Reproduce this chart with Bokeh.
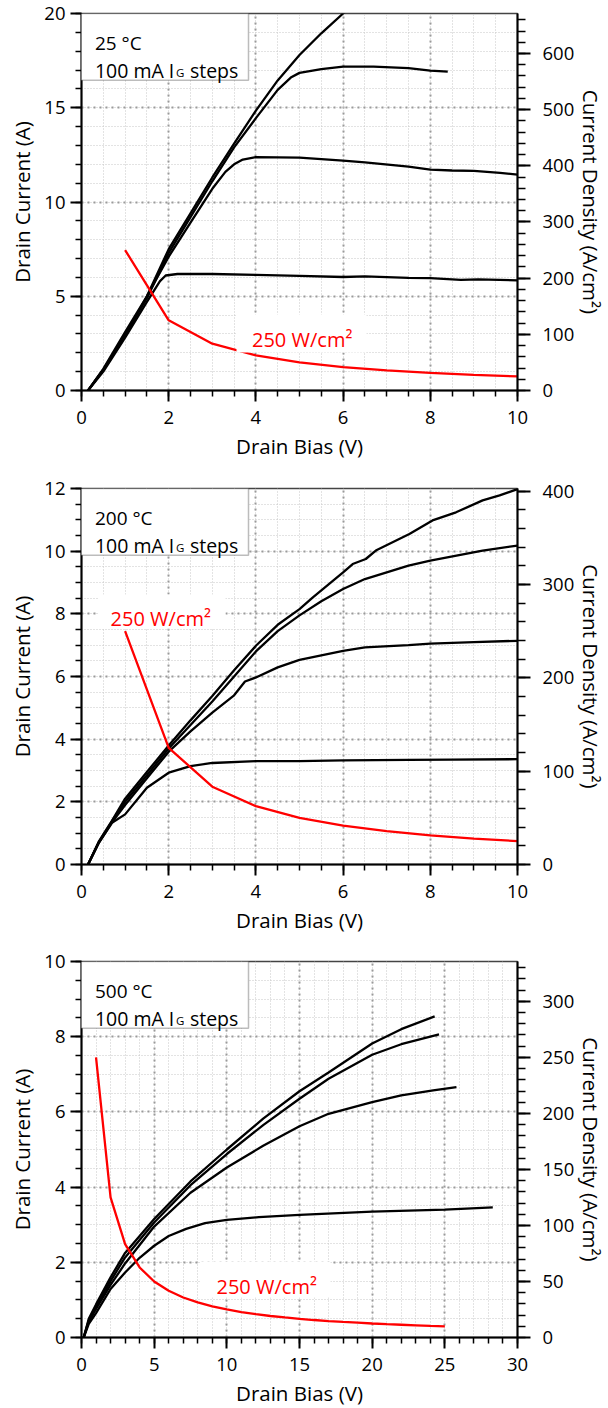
from bokeh.plotting import figure
from bokeh.models import Range1d, LinearAxis, SingleIntervalTicker, BoxAnnotation, Label
from bokeh.layouts import column
from bokeh.embed import file_html
from bokeh.resources import INLINE

FONT = "Open Sans"

# ---------------- data ----------------
x_label = "Drain Bias (V)"
y_label = "Drain Current (A)"
j_label = "Current Density (A/cm²)"
pw_label = "250 W/cm²"
temps = ["25 °C", "200 °C", "500 °C"]
ig_text = ["100 mA I", "G", "steps"]

# 25 C
v25_1 = [0.15, 0.5, 1.0, 1.5, 1.8, 1.93, 2.2, 3.0, 4.0, 5.0, 6.0, 6.5, 7.5, 8.0, 8.7, 9.1, 10.0]
i25_1 = [0.0, 1.0, 2.8, 4.7, 5.8, 6.1, 6.18, 6.18, 6.13, 6.08, 6.02, 6.05, 5.97, 5.96, 5.87, 5.9, 5.84]
v25_2 = [0.15, 0.5, 1.0, 1.5, 2.0, 2.5, 3.0, 3.3, 3.5, 3.7, 4.0, 5.0, 6.0, 6.5, 7.5, 8.0, 8.5, 9.0, 9.6, 10.0]
i25_2 = [0.0, 1.1, 2.9, 5.0, 7.1, 8.9, 10.7, 11.6, 12.0, 12.25, 12.38, 12.35, 12.2, 12.1, 11.88, 11.72, 11.67, 11.65, 11.55, 11.45]
v25_3 = [0.15, 0.5, 1.0, 1.5, 2.0, 2.5, 3.0, 3.5, 4.0, 4.5, 4.8, 5.0, 5.5, 6.0, 6.7, 7.5, 8.0, 8.4]
i25_3 = [0.0, 1.1, 3.0, 4.9, 7.3, 9.2, 11.1, 12.9, 14.45, 15.95, 16.6, 16.85, 17.05, 17.18, 17.18, 17.1, 16.97, 16.92]
v25_4 = [0.15, 0.5, 1.0, 1.5, 2.0, 2.5, 3.0, 3.5, 4.0, 4.5, 5.0, 5.5, 6.0, 6.1]
i25_4 = [0.0, 1.15, 3.1, 5.0, 7.5, 9.4, 11.3, 13.1, 14.85, 16.45, 17.8, 18.95, 20.0, 20.2]

# 200 C
v200_1 = [0.15, 0.4, 0.7, 1.0, 1.5, 2.0, 2.5, 3.0, 4.0, 5.0, 6.0, 7.5, 8.5, 10.0]
i200_1 = [0.0, 0.7, 1.33, 1.6, 2.45, 2.93, 3.14, 3.24, 3.3, 3.3, 3.32, 3.34, 3.35, 3.36]
v200_2 = [0.15, 0.4, 0.7, 1.0, 1.5, 2.0, 2.5, 3.0, 3.5, 3.75, 4.0, 4.5, 5.0, 6.0, 6.5, 7.5, 8.0, 9.0, 10.0]
i200_2 = [0.0, 0.7, 1.35, 1.9, 2.75, 3.6, 4.25, 4.85, 5.4, 5.84, 5.97, 6.29, 6.53, 6.82, 6.93, 7.0, 7.05, 7.1, 7.14]
v200_3 = [0.15, 0.4, 0.7, 1.0, 1.5, 2.0, 2.5, 3.0, 3.5, 4.0, 4.5, 5.0, 5.5, 6.0, 6.5, 7.5, 8.0, 8.6, 9.2, 10.0]
i200_3 = [0.0, 0.72, 1.38, 2.0, 2.85, 3.7, 4.45, 5.2, 6.0, 6.8, 7.45, 7.95, 8.4, 8.79, 9.11, 9.54, 9.7, 9.86, 10.02, 10.18]
v200_4 = [0.15, 0.4, 0.7, 1.0, 1.5, 2.0, 2.5, 3.0, 3.5, 4.0, 4.5, 5.0, 5.3, 6.0, 6.22, 6.52, 6.75, 7.52, 8.05, 8.59, 9.2, 9.59, 10.0]
i200_4 = [0.0, 0.74, 1.4, 2.1, 2.95, 3.8, 4.6, 5.38, 6.2, 6.98, 7.65, 8.15, 8.52, 9.32, 9.59, 9.75, 10.02, 10.55, 10.98, 11.24, 11.62, 11.78, 11.98]

# 500 C
v500_1 = [0.15, 0.5, 1.0, 2.0, 3.0, 4.0, 5.0, 6.0, 7.2, 8.5, 10.0, 12.2, 15.0, 20.0, 25.0, 28.3]
i500_1 = [0.0, 0.36, 0.65, 1.29, 1.73, 2.12, 2.44, 2.7, 2.89, 3.04, 3.13, 3.2, 3.26, 3.35, 3.4, 3.46]
v500_2 = [0.15, 0.5, 1.0, 2.0, 3.0, 5.0, 7.5, 10.0, 12.5, 15.0, 17.0, 20.0, 22.0, 24.2, 25.8]
i500_2 = [0.0, 0.42, 0.76, 1.4, 1.97, 2.95, 3.85, 4.52, 5.1, 5.62, 5.95, 6.26, 6.44, 6.57, 6.66]
v500_3 = [0.15, 0.5, 1.0, 2.0, 3.0, 5.0, 7.5, 10.0, 12.5, 15.0, 17.0, 20.0, 22.0, 24.6]
i500_3 = [0.0, 0.46, 0.82, 1.5, 2.13, 3.06, 4.05, 4.88, 5.65, 6.35, 6.88, 7.52, 7.8, 8.06]
v500_4 = [0.15, 0.5, 1.0, 2.0, 3.0, 5.0, 7.5, 10.0, 12.5, 15.0, 17.0, 20.0, 22.0, 24.3]
i500_4 = [0.0, 0.5, 0.88, 1.6, 2.25, 3.15, 4.15, 5.0, 5.82, 6.55, 7.05, 7.82, 8.2, 8.54]

# 250 W/cm2 power line, current density in A/cm2
pw_v10 = [1, 2, 3, 4, 5, 6, 7, 8, 9, 10]
pw_j10 = [250, 125, 83.3, 62.5, 50, 41.7, 35.7, 31.3, 27.8, 25]
pw_v25 = [1, 2, 3, 4, 5, 6, 7, 8, 9, 10, 11, 12, 13, 14, 15, 16, 17, 18, 19, 20, 21, 22, 23, 24, 25]
pw_j25 = [250, 125, 83.3, 62.5, 50, 41.7, 35.7, 31.3, 27.8, 25, 22.7, 20.8, 19.2, 17.9, 16.7,
          15.6, 14.7, 13.9, 13.2, 12.5, 11.9, 11.4, 10.9, 10.4, 10.0]

J_PER_A = 33.56   # right-axis scale (A/cm2 per A)

# ---------------- layout ----------------
FW = 436


def style_axis(ax, tout, mout, lstand, tstand):
    ax.axis_line_color = "black"
    ax.axis_line_width = 2
    ax.major_tick_line_color = "black"
    ax.major_tick_line_width = 2
    ax.major_tick_in = 0
    ax.major_tick_out = tout
    ax.minor_tick_line_color = "black"
    ax.minor_tick_line_width = 1.5
    ax.minor_tick_in = 0
    ax.minor_tick_out = mout
    ax.major_label_text_font = FONT
    ax.major_label_text_font_size = "18.5px"
    ax.major_label_text_color = "black"
    ax.major_label_standoff = lstand
    ax.axis_label_text_font = FONT
    ax.axis_label_text_font_size = "20.5px"
    ax.axis_label_text_font_style = "normal"
    ax.axis_label_text_color = "black"
    ax.axis_label_standoff = tstand


def panel(temp, curves, pw_v, pw_j, xmax, ymax, xt, xm, yt, ym, jt, jm,
          pw_pos, pw_box, fh, bottom_border):
    p = figure(frame_width=FW, frame_height=fh,
               x_range=Range1d(0, xmax), y_range=Range1d(0, ymax),
               output_backend="svg", toolbar_location=None,
               min_border_left=81, min_border_right=40, min_border_top=13,
               min_border_bottom=bottom_border,
               background_fill_color="white", border_fill_color="white",
               outline_line_color="#444444", outline_line_width=1.5)
    p.extra_y_ranges = {"J": Range1d(0, ymax * J_PER_A)}

    xtick = SingleIntervalTicker(interval=xt, num_minor_ticks=xm)
    ytick = SingleIntervalTicker(interval=yt, num_minor_ticks=ym)
    xa = p.below[0]
    ya = p.left[0]
    xa.ticker = xtick
    ya.ticker = ytick
    p.xgrid.ticker = xtick
    p.ygrid.ticker = ytick
    xa.axis_label = x_label
    ya.axis_label = y_label
    style_axis(xa, 11, 6, 9, 5)
    style_axis(ya, 11, 6, 5, 5)

    ja = LinearAxis(y_range_name="J", axis_label=j_label,
                    ticker=SingleIntervalTicker(interval=jt, num_minor_ticks=jm))
    style_axis(ja, 13, 8, 12, 0)
    ja.axis_label_orientation = "vertical"
    p.add_layout(ja, "right")

    for g in (p.xgrid, p.ygrid):
        g.grid_line_color = "#9a9a9a"
        g.grid_line_width = 2
        g.grid_line_dash = "2 4"
        g.minor_grid_line_color = "#c6c6c6"
        g.minor_grid_line_width = 1
        g.minor_grid_line_dash = "1 2"

    for v, i in curves:
        p.line(v, i, line_color="black", line_width=2.3)
    p.line(pw_v, pw_j, y_range_name="J", line_color="red", line_width=2.3)

    def xd(px):
        return xmax * px / FW

    def yd(py):
        return ymax * (1 - py / fh)

    # white box behind the power label
    bl, br, bt, bb = pw_box
    p.add_layout(BoxAnnotation(left=xd(bl), right=xd(br), top=yd(bt), bottom=yd(bb),
                               fill_color="white", fill_alpha=1, line_alpha=0))
    p.add_layout(Label(x=xd(pw_pos[0]), y=yd(pw_pos[1]), text=pw_label, text_color="red",
                       text_font=FONT, text_font_size="20px", text_baseline="alphabetic"))

    # legend box
    p.add_layout(BoxAnnotation(left=xd(-3), right=xd(167), top=yd(0), bottom=yd(66.7),
                               fill_color="white", fill_alpha=1,
                               line_color="#222222", line_width=1.5))
    lx = 13.4
    p.add_layout(Label(x=xd(lx), y=yd(29), text=temp, text_font=FONT, text_color="black",
                       text_font_size="19px", text_baseline="alphabetic"))
    p.add_layout(Label(x=xd(lx), y=yd(56.5), text=ig_text[0], text_font=FONT, text_color="black",
                       text_font_size="19.5px", text_baseline="alphabetic"))
    p.add_layout(Label(x=xd(lx + 81), y=yd(58.5), text=ig_text[1], text_font=FONT,
                       text_color="black", text_font_size="11.5px", text_baseline="alphabetic"))
    p.add_layout(Label(x=xd(lx + 95), y=yd(56.5), text=ig_text[2], text_font=FONT,
                       text_color="black", text_font_size="19.5px", text_baseline="alphabetic"))
    return p


p1 = panel(temps[0], [(v25_1, i25_1), (v25_2, i25_2), (v25_3, i25_3), (v25_4, i25_4)],
           pw_v10, pw_j10, 10, 20, 2, 4, 5, 5, 100, 5,
           (170.5, 326.4), (155, 285, 301, 339), 377, 85)
p2 = panel(temps[1], [(v200_1, i200_1), (v200_2, i200_2), (v200_3, i200_3), (v200_4, i200_4)],
           pw_v10, pw_j10, 10, 12, 2, 4, 2, 4, 100, 5,
           (29.1, 130.4), (17, 144, 106, 140), 376, 84)
p3 = panel(temps[2], [(v500_1, i500_1), (v500_2, i500_2), (v500_3, i500_3), (v500_4, i500_4)],
           pw_v25, pw_j25, 30, 10, 5, 5, 2, 4, 50, 5,
           (135, 324.7), (119, 249, 300, 336), 376, 30)

layout = column(p1, p2, p3)
open("out.html", "w").write(file_html(layout, INLINE))
